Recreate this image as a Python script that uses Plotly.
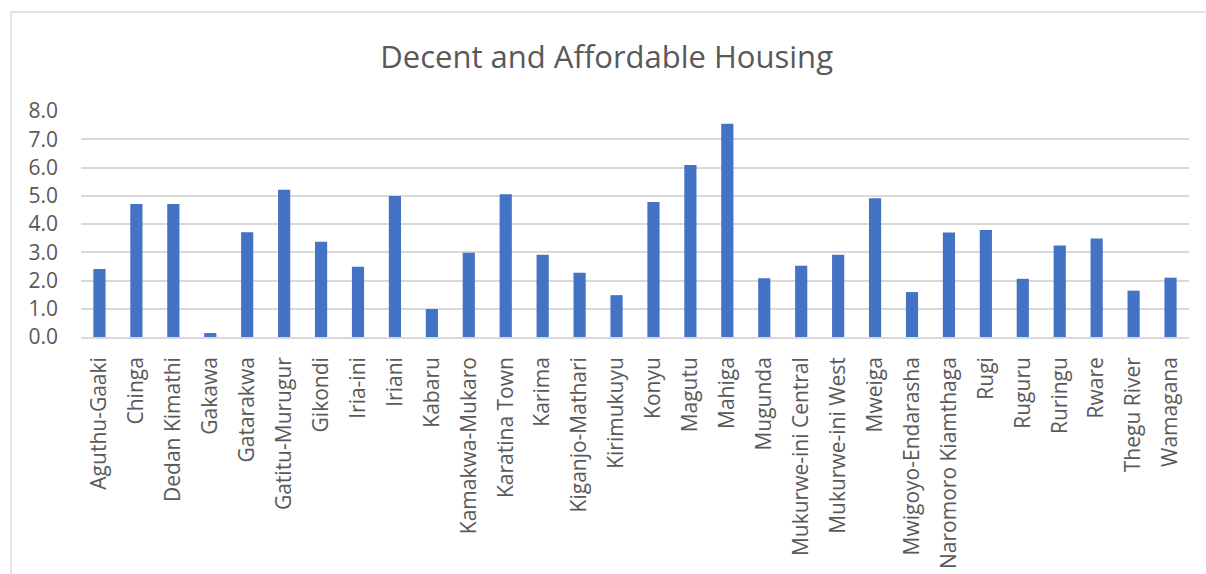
import plotly.graph_objects as go

# Ward names and housing scores
wards = [
    "Aguthu-Gaaki", "Chinga", "Dedan Kimathi", "Gakawa", "Gatarakwa",
    "Gatitu-Murugur", "Gikondi", "Iria-ini", "Iriani", "Kabaru",
    "Kamakwa-Mukaro", "Karatina Town", "Karima", "Kiganjo-Mathari", "Kirimukuyu",
    "Konyu", "Magutu", "Mahiga", "Mugunda", "Mukurwe-ini Central",
    "Mukurwe-ini West", "Mweiga", "Mwigoyo-Endarasha", "Naromoro Kiamthaga", "Rugi",
    "Ruguru", "Ruringu", "Rware", "Thegu River", "Wamagana",
]
scores = [
    2.41, 4.71, 4.71, 0.14, 3.71,
    5.21, 3.37, 2.49, 4.99, 0.99,
    2.98, 5.05, 2.91, 2.27, 1.48,
    4.78, 6.09, 7.55, 2.08, 2.52,
    2.91, 4.91, 1.59, 3.70, 3.79,
    2.06, 3.24, 3.49, 1.64, 2.10,
]
y_ticks = [0, 1, 2, 3, 4, 5, 6, 7, 8]

TEXT = "#595959"
GRID = "#d9d9d9"
FONT = "Open Sans"

fig = go.Figure(
    go.Bar(
        x=wards,
        y=scores,
        marker=dict(color="#4472C4", line=dict(width=0)),
        hoverinfo="x+y",
    )
)

L, R, T, B = 81, 17, 111, 237
W, H = 1206, 574
pw, ph = W - L - R, H - T - B

# chart frame: left and top edges of the outer border
fx = (11 - L) / pw
fy = (H - B - 12) / ph

fig.update_layout(
    width=W,
    height=H,
    margin=dict(l=L, r=R, t=T, b=B, autoexpand=False),
    paper_bgcolor="white",
    plot_bgcolor="white",
    bargap=0.67,
    showlegend=False,
    title=dict(
        text="Decent and Affordable Housing",
        x=0.503,
        xref="container",
        xanchor="center",
        y=1 - 57 / H,
        yanchor="middle",
        font=dict(family=FONT, size=31, color=TEXT),
    ),
    font=dict(family=FONT, color=TEXT),
    xaxis=dict(
        tickangle=-90,
        tickfont=dict(family=FONT, size=21, color=TEXT),
        showgrid=False,
        showline=True,
        linecolor=GRID,
        linewidth=1.5,
        ticks="",
        ticklabelstandoff=10,
        automargin=False,
        fixedrange=True,
    ),
    yaxis=dict(
        range=[0, 8],
        tickvals=y_ticks,
        tickformat=".1f",
        tickfont=dict(family=FONT, size=21, color=TEXT),
        showgrid=True,
        gridcolor=GRID,
        gridwidth=1.5,
        zeroline=False,
        showline=False,
        ticks="",
        ticklabelstandoff=22,
        automargin=False,
        fixedrange=True,
    ),
    shapes=[
        dict(type="line", xref="paper", yref="paper", x0=fx, x1=fx, y0=fy, y1=-2,
             line=dict(color=GRID, width=1.5)),
        dict(type="line", xref="paper", yref="paper", x0=fx, x1=1.2, y0=fy, y1=fy,
             line=dict(color=GRID, width=1.5)),
    ],
)

fig.write_html("out.html")
